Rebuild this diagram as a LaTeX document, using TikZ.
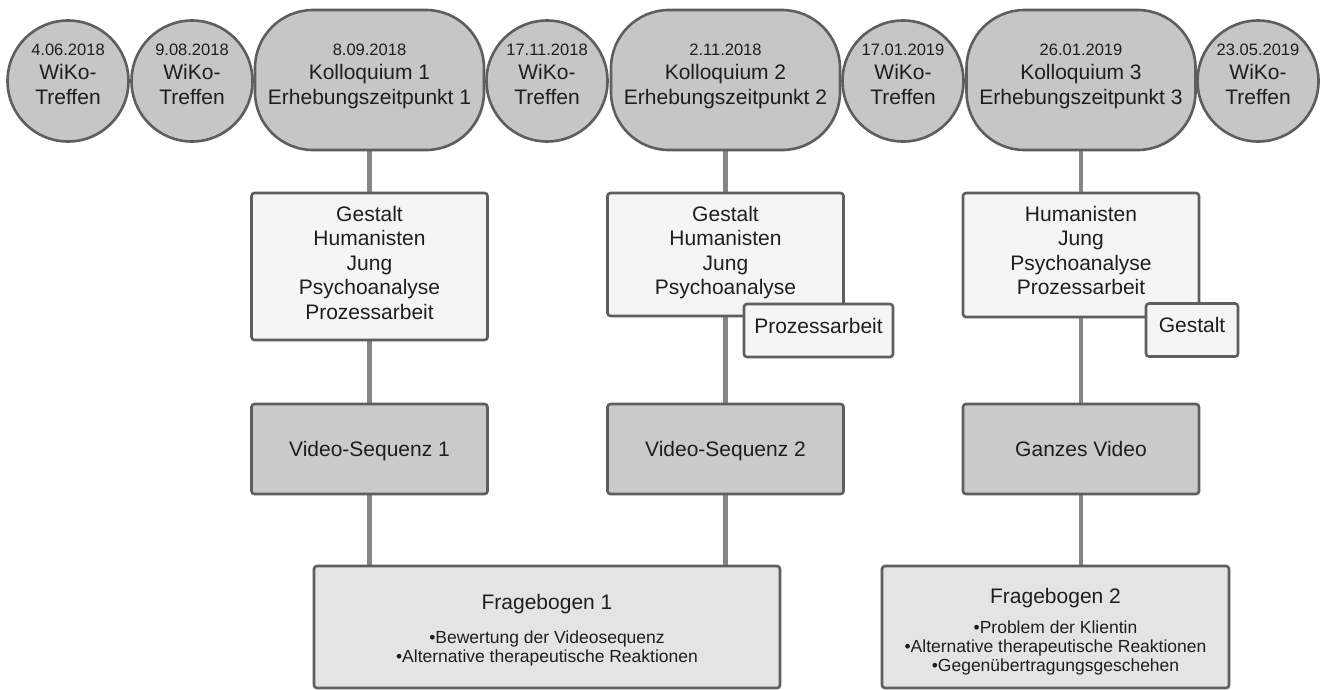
\documentclass[tikz,border=0pt]{standalone}
\usepackage{fontspec}
\setmainfont{Liberation Sans}
\usetikzlibrary{shapes.geometric,shadows}
\definecolor{edgegray}{HTML}{5E5E5E}
\definecolor{linegray}{HTML}{858585}
\definecolor{topfill}{HTML}{C6C6C6}
\definecolor{boxfill}{HTML}{F5F5F5}
\definecolor{vidfill}{HTML}{CACACA}
\definecolor{fbfill}{HTML}{E4E4E4}
\definecolor{txtcol}{HTML}{1E1E1E}
\pgfdeclarelayer{back}
\pgfdeclarelayer{bg}
\pgfsetlayers{back,bg,main}
\tikzset{
  shp/.style={draw=edgegray, line width=2.6pt, inner sep=0pt, text=txtcol,
    drop shadow={shadow xshift=1.2pt, shadow yshift=-1.2pt, opacity=0.2}},
  circ/.style={shp, ellipse, fill=topfill, minimum width=121pt, minimum height=121pt},
  pill/.style={shp, rectangle, rounded corners=58pt, fill=topfill, minimum width=229pt, minimum height=140pt},
  mainbox/.style={shp, rectangle, rounded corners=3pt, fill=boxfill, minimum width=236pt},
  smallbox/.style={shp, rectangle, rounded corners=3pt, fill=boxfill, minimum height=53pt,
    font=\fontsize{21}{24.5}\selectfont, text height=15pt, text depth=10pt},
  vidbox/.style={shp, rectangle, rounded corners=3pt, fill=vidfill, minimum width=236pt, minimum height=90pt,
    font=\fontsize{21}{24.5}\selectfont, text height=18pt, text depth=4pt},
  fbbox/.style={shp, rectangle, rounded corners=3pt, fill=fbfill, minimum height=122pt},
  tdate/.style={anchor=base, inner sep=0pt, text=txtcol, font=\fontsize{16.5}{20}\selectfont},
  tname/.style={anchor=base, inner sep=0pt, text=txtcol, font=\fontsize{21}{24.5}\selectfont},
  tbul/.style={anchor=base, inner sep=0pt, text=txtcol, font=\fontsize{17.5}{19}\selectfont},
  conn/.style={draw=linegray, line width=4.5pt},
}
\newcommand\topthree[5]{%
  \node[tdate] (#1a) at (#2,55) {#3};
  \node[tname] (#1b) at (#2,79.5) {#4};
  \node[tname] (#1c) at (#2,104) {#5};}
\begin{document}
\begin{tikzpicture}[x=1pt,y=-1pt]
\useasboundingbox (0,0) rectangle (1324,689);
\begin{pgfonlayer}{back}
\fill[white] (0,0) rectangle (1324,689);
\end{pgfonlayer}

% top row
\node[circ] (C1) at (68,81) {};
\node[circ] (C2) at (192,81) {};
\node[pill] (P1) at (369.5,80) {};
\node[circ] (C3) at (547,81) {};
\node[pill] (P2) at (725.5,80) {};
\node[circ] (C4) at (903,81) {};
\node[pill] (P3) at (1081,80) {};
\node[circ] (C5) at (1258,81) {};

\topthree{c1t}{68}{4.06.2018}{WiKo-}{Treffen}
\topthree{c2t}{192}{9.08.2018}{WiKo-}{Treffen}
\topthree{p1t}{369.5}{8.09.2018}{Kolloquium 1}{Erhebungszeitpunkt 1}
\topthree{c3t}{547}{17.11.2018}{WiKo-}{Treffen}
\topthree{p2t}{725.5}{2.11.2018}{Kolloquium 2}{Erhebungszeitpunkt 2}
\topthree{c4t}{903}{17.01.2019}{WiKo-}{Treffen}
\topthree{p3t}{1081}{26.01.2019}{Kolloquium 3}{Erhebungszeitpunkt 3}
\topthree{c5t}{1258}{23.05.2019}{WiKo-}{Treffen}

% school boxes
\node[mainbox, minimum height=147pt] (B1) at (369.5,266.5) {};
\node[tname] (b1a) at (369.5,221) {Gestalt};
\node[tname] (b1b) at (369.5,245.5) {Humanisten};
\node[tname] (b1c) at (369.5,270) {Jung};
\node[tname] (b1d) at (369.5,294.5) {Psychoanalyse};
\node[tname] (b1e) at (369.5,319) {Prozessarbeit};

\node[mainbox, minimum height=123pt] (B2) at (725.5,254.5) {};
\node[tname] (b2a) at (725.5,221) {Gestalt};
\node[tname] (b2b) at (725.5,245.5) {Humanisten};
\node[tname] (b2c) at (725.5,270) {Jung};
\node[tname] (b2d) at (725.5,294.5) {Psychoanalyse};
\node[smallbox, minimum width=149pt] (S2) at (818.5,330.5) {Prozessarbeit};

\node[mainbox, minimum height=124pt] (B3) at (1081,255) {};
\node[tname] (b3a) at (1081,221) {Humanisten};
\node[tname] (b3b) at (1081,245.5) {Jung};
\node[tname] (b3c) at (1081,270) {Psychoanalyse};
\node[tname] (b3d) at (1081,294.5) {Prozessarbeit};
\node[smallbox, minimum width=92pt] (S3) at (1192,330) {Gestalt};

% video boxes
\node[vidbox] (V1) at (369.5,449) {Video-Sequenz 1};
\node[vidbox] (V2) at (725.5,449) {Video-Sequenz 2};
\node[vidbox] (V3) at (1081,449) {Ganzes Video};

% questionnaires
\node[fbbox, minimum width=466pt] (F1) at (547,627) {};
\node[tname] (f1a) at (547,609) {Fragebogen 1};
\node[tbul] (f1b) at (547,643) {•Bewertung der Videosequenz};
\node[tbul] (f1c) at (547,662) {•Alternative therapeutische Reaktionen};

\node[fbbox, minimum width=347pt] (F2) at (1055.5,627) {};
\node[tname] (f2a) at (1055.5,603) {Fragebogen 2};
\node[tbul] (f2b) at (1055.5,633) {•Problem der Klientin};
\node[tbul] (f2c) at (1055.5,652) {•Alternative therapeutische Reaktionen};
\node[tbul] (f2d) at (1055.5,671) {•Gegenübertragungsgeschehen};

% connectors
\begin{pgfonlayer}{bg}
\draw[conn] (P1.south) -- (B1.north);
\draw[conn] (B1.south) -- (V1.north);
\draw[conn] (V1.south) -- (V1.south |- F1.north);
\draw[conn] (P2.south) -- (B2.north);
\draw[conn] (B2.south) -- (V2.north);
\draw[conn] (V2.south) -- (V2.south |- F1.north);
\draw[conn] (P3.south) -- (B3.north);
\draw[conn] (B3.south) -- (V3.north);
\draw[conn] (V3.south) -- (V3.south |- F2.north);
\end{pgfonlayer}
\end{tikzpicture}
\end{document}
